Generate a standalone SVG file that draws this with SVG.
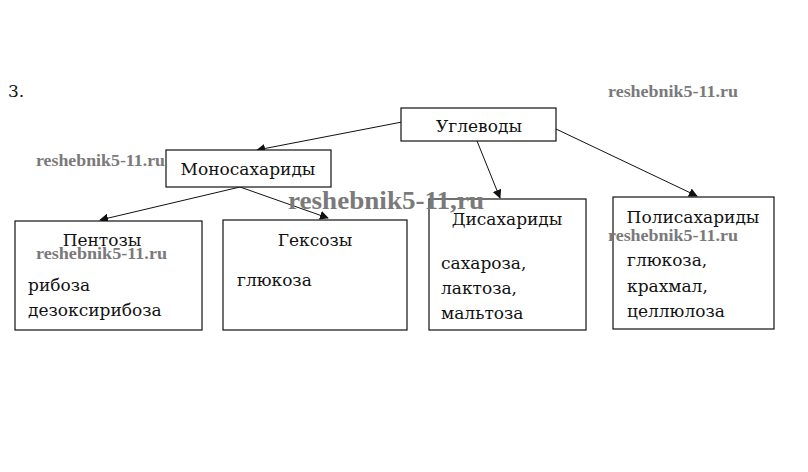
<svg xmlns="http://www.w3.org/2000/svg" width="808" height="472" viewBox="0 0 808 472">
<style>
.box{fill:#fff;stroke:#111;stroke-width:1.2}
.t{font-family:"DejaVu Serif","Liberation Serif",serif;font-size:17px;fill:#111}
.c{text-anchor:middle}
.wm{font-family:"Liberation Serif","DejaVu Serif",serif;font-weight:bold;font-size:17px;fill:#7a7a7a}
.ln{stroke:#111;stroke-width:1;fill:none;marker-end:url(#ah)}
</style>
<defs>
<marker id="ah" viewBox="0 0 10 10" refX="9" refY="5" markerWidth="9" markerHeight="9" markerUnits="userSpaceOnUse" orient="auto">
<path d="M0,0 L10,5 L0,10 z" fill="#111"/>
</marker>
</defs>
<rect width="808" height="472" fill="#fff"/>
<text class="t" x="8" y="97">3.</text>
<g id="connectors">
<line class="ln" x1="402" y1="122" x2="257" y2="150"/>
<line class="ln" x1="477" y1="141" x2="500" y2="198"/>
<line class="ln" x1="556" y1="129" x2="697" y2="196"/>
<line class="ln" x1="240" y1="187" x2="100" y2="220"/>
<line class="ln" x1="240" y1="187" x2="328" y2="218"/>
</g>
<g id="n-uglevody">
<rect class="box" x="401" y="108" width="155" height="33"/>
<text class="t c" x="479" y="132">Углеводы</text>
</g>
<g id="n-mono">
<rect class="box" x="166" y="150" width="165" height="37"/>
<text class="t c" x="248" y="175">Моносахариды</text>
</g>
<g id="n-pentozy">
<rect class="box" x="15" y="221" width="187" height="109"/>
<text class="t c" x="102" y="246">Пентозы</text>
<text class="t" x="28" y="291">рибоза</text>
<text class="t" x="28" y="316">дезоксирибоза</text>
</g>
<g id="n-geksozy">
<rect class="box" x="223" y="220" width="184" height="110"/>
<text class="t c" x="315" y="246">Гексозы</text>
<text class="t" x="237" y="286">глюкоза</text>
</g>
<g id="n-di">
<rect class="box" x="429" y="199" width="157" height="131"/>
<text class="t c" x="507" y="225">Дисахариды</text>
<text class="t" x="441" y="269">сахароза,</text>
<text class="t" x="441" y="294">лактоза,</text>
<text class="t" x="441" y="319">мальтоза</text>
</g>
<g id="n-poly">
<rect class="box" x="613" y="197" width="161" height="132"/>
<text class="t c" x="693" y="223">Полисахариды</text>
<text class="t" x="627" y="266">глюкоза,</text>
<text class="t" x="627" y="292">крахмал,</text>
<text class="t" x="627" y="317">целлюлоза</text>
</g>
<g id="watermarks">
<text class="wm" x="608" y="97" textLength="130" lengthAdjust="spacingAndGlyphs">reshebnik5-11.ru</text>
<text class="wm" x="36" y="166" textLength="129" lengthAdjust="spacingAndGlyphs">reshebnik5-11.ru</text>
<text class="wm" x="288" y="209" style="font-size:25px" textLength="196" lengthAdjust="spacingAndGlyphs">reshebnik5-11,ru</text>
<text class="wm" x="36" y="259" textLength="131" lengthAdjust="spacingAndGlyphs">reshebnik5-11.ru</text>
<text class="wm" x="608" y="241" textLength="130" lengthAdjust="spacingAndGlyphs">reshebnik5-11.ru</text>
</g>
</svg>
